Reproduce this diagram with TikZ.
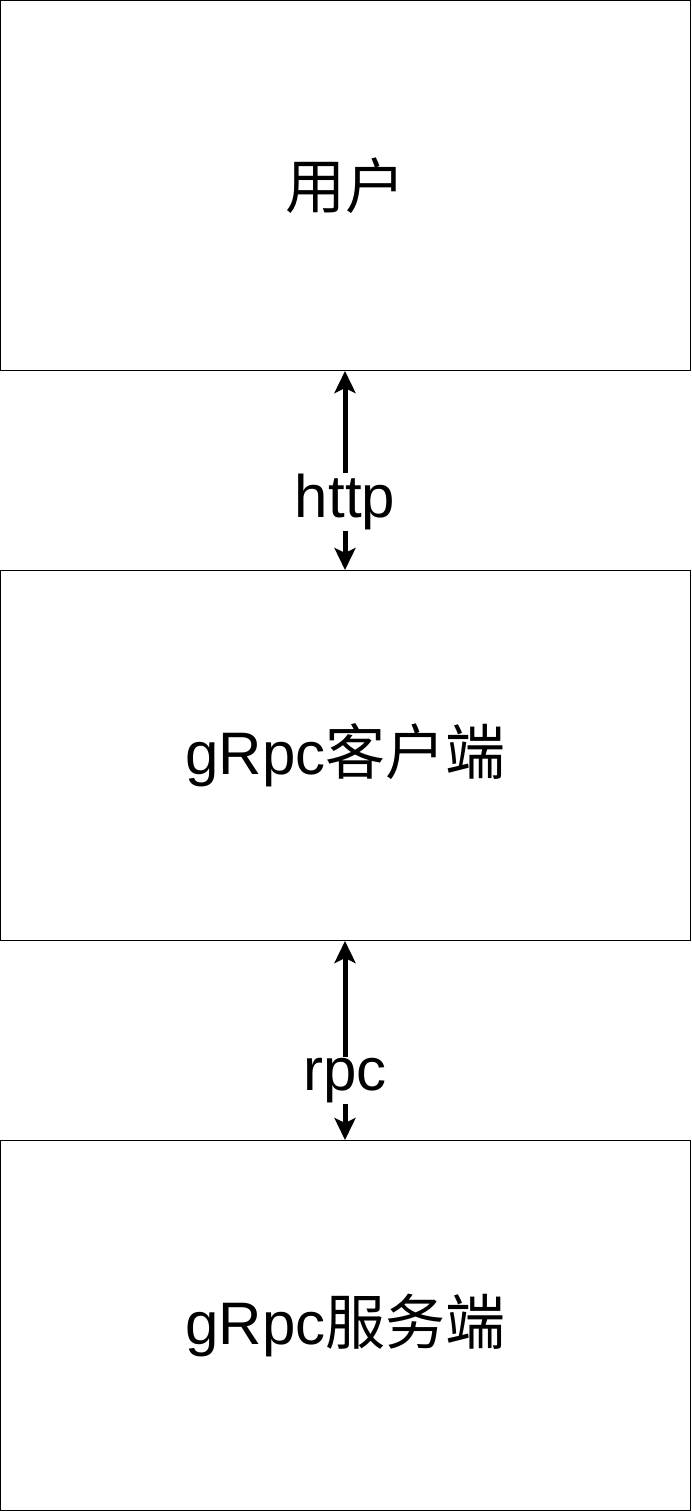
\documentclass[tikz,border=0pt]{standalone}
\usepackage{fontspec}
\setmainfont{Liberation Sans}
\newfontfamily\cjk{Noto Sans CJK SC}
\usetikzlibrary{arrows.meta}
\begin{document}
\begin{tikzpicture}[x=1pt,y=-1pt,
  box/.style={draw=black,line width=1pt,minimum width=690pt,minimum height=370pt,inner sep=0pt,font=\fontsize{60}{72}\selectfont},
  arrowhd/.tip={Stealth[length=22pt,width=21pt,inset=5pt]},
  link/.style={line width=5pt,arrowhd-arrowhd},
  lbl/.style={fill=white,inner sep=1pt,font=\fontsize{60}{72}\selectfont}]
\useasboundingbox (0,0) rectangle (691,1512);
\node[box] (user) at (345.5,185.5) {{\cjk 用户}};
\node[box] (client) at (345.5,755.5) {gRpc{\cjk 客户端}};
\node[box] (server) at (345.5,1325.5) {gRpc{\cjk 服务端}};
\draw[link] ([xshift=-0.5pt]user.south) -- node[lbl,pos=0.66] (l1) {http} ([xshift=-0.5pt]client.north);
\draw[link] ([xshift=-0.5pt]client.south) -- node[lbl,pos=0.7] (l2) {rpc} ([xshift=-0.5pt]server.north);
\end{tikzpicture}
\end{document}
